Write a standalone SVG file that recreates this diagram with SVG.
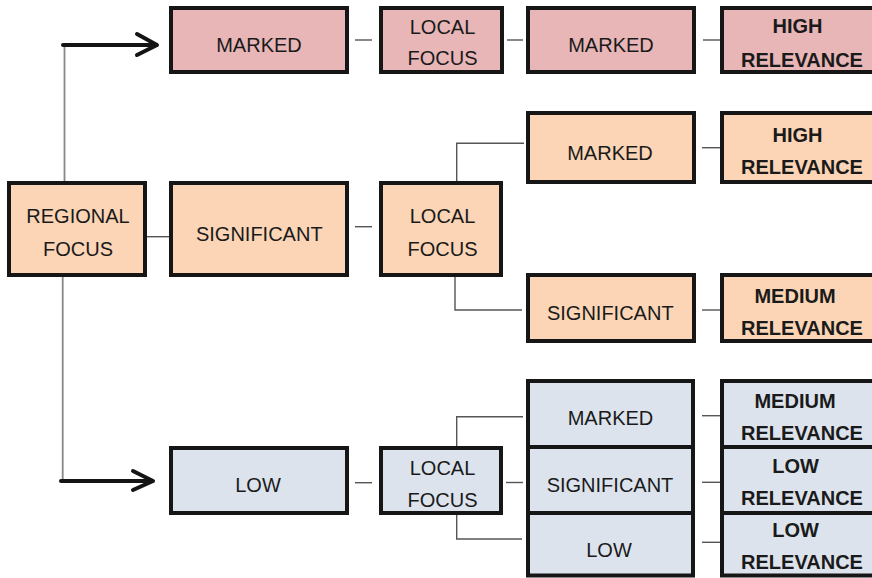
<svg xmlns="http://www.w3.org/2000/svg" width="872" height="578" viewBox="0 0 872 578">
<style>
.b{stroke:#161616;stroke-width:4}
.pk{fill:#E8B6B7}
.or{fill:#FBD5B5}
.bl{fill:#DCE3ED}
text{font-family:"Liberation Sans",Arial,sans-serif;font-size:20px;fill:#1a1a1a;text-anchor:middle}
.bd{font-weight:bold}
.c{stroke:#555;stroke-width:1.4;fill:none}
.g{stroke:#888;stroke-width:1.8;fill:none}
.a{stroke:#141414;stroke-width:4;fill:none;stroke-linecap:round;stroke-linejoin:round}
</style>
<rect width="872" height="578" fill="#fff"/>
<g id="connectors">
<polyline class="g" points="64.5,45 64.5,181"/>
<polyline class="g" points="62.7,277 62.7,481"/>
<line class="a" x1="63" y1="45" x2="156" y2="45"/>
<polyline class="a" points="137,34 157,45 137,55"/>
<line class="a" x1="61" y1="481" x2="152" y2="481"/>
<polyline class="a" points="133,471 153,481 133,490"/>
<line class="c" x1="355" y1="40" x2="372" y2="40"/>
<line class="c" x1="507" y1="40" x2="523" y2="40"/>
<line class="c" x1="703" y1="40" x2="720" y2="40"/>
<line class="c" x1="147" y1="236.7" x2="169" y2="236.7"/>
<line class="c" x1="355" y1="226.7" x2="372" y2="226.7"/>
<polyline class="c" points="456.7,181 456.7,143.3 524,143.3"/>
<polyline class="c" points="455,272 455,310 522,310"/>
<line class="c" x1="702" y1="147.7" x2="720" y2="147.7"/>
<line class="c" x1="702" y1="310" x2="720" y2="310"/>
<line class="c" x1="355" y1="482.7" x2="372" y2="482.7"/>
<polyline class="c" points="456.7,446 456.7,416.7 523,416.7"/>
<line class="c" x1="506" y1="482.5" x2="523" y2="482.5"/>
<polyline class="c" points="456.7,515 456.7,539 522,539"/>
<line class="c" x1="702" y1="415.7" x2="720" y2="415.7"/>
<line class="c" x1="702" y1="482.3" x2="720" y2="482.3"/>
<line class="c" x1="702" y1="542.3" x2="720" y2="542.3"/>
</g>
<g id="top-marked"><rect class="b pk" x="171" y="8" width="176" height="64"/><text x="259" y="51.5">MARKED</text></g>
<g id="top-local"><rect class="b pk" x="381" y="8" width="121" height="64"/><text x="442.5" y="34.3">LOCAL</text><text x="442.5" y="65">FOCUS</text></g>
<g id="top-marked2"><rect class="b pk" x="528" y="8" width="166" height="64"/><text x="611" y="51.7">MARKED</text></g>
<g id="top-high"><rect class="b pk" x="722" y="8" width="160" height="64"/><text class="bd" x="797.5" y="33.3">HIGH</text><text class="bd" x="802" y="66.7">RELEVANCE</text></g>
<g id="regional"><rect class="b or" x="9" y="183" width="136" height="92"/><text x="78" y="223.3">REGIONAL</text><text x="78" y="255.7">FOCUS</text></g>
<g id="mid-significant"><rect class="b or" x="171" y="183" width="176" height="92"/><text x="259.3" y="240.7">SIGNIFICANT</text></g>
<g id="mid-local"><rect class="b or" x="381" y="183" width="120" height="92"/><text x="442.5" y="223.3">LOCAL</text><text x="442.5" y="255.7">FOCUS</text></g>
<g id="mid-marked"><rect class="b or" x="528" y="113" width="166" height="69"/><text x="610" y="160">MARKED</text></g>
<g id="mid-high"><rect class="b or" x="722" y="113" width="160" height="69"/><text class="bd" x="797.5" y="142.3">HIGH</text><text class="bd" x="802" y="174">RELEVANCE</text></g>
<g id="mid-significant2"><rect class="b or" x="528" y="275" width="166" height="66"/><text x="610.3" y="320">SIGNIFICANT</text></g>
<g id="mid-medium"><rect class="b or" x="722" y="275" width="160" height="66"/><text class="bd" x="795" y="303.3">MEDIUM</text><text class="bd" x="802" y="335">RELEVANCE</text></g>
<g id="low"><rect class="b bl" x="171" y="448" width="176" height="65"/><text x="258" y="492.3">LOW</text></g>
<g id="low-local"><rect class="b bl" x="381" y="448" width="120" height="65"/><text x="442.5" y="475">LOCAL</text><text x="442.5" y="506.7">FOCUS</text></g>
<g id="low-marked"><rect class="b bl" x="528" y="381" width="165" height="66"/><text x="610.5" y="425">MARKED</text></g>
<g id="low-significant"><rect class="b bl" x="528" y="447" width="165" height="66"/><text x="610" y="491.7">SIGNIFICANT</text></g>
<g id="low-low"><rect class="b bl" x="528" y="513" width="165" height="62.5"/><text x="609" y="556.7">LOW</text></g>
<g id="low-medium"><rect class="b bl" x="722" y="381" width="160" height="66"/><text class="bd" x="795" y="408.3">MEDIUM</text><text class="bd" x="802" y="440">RELEVANCE</text></g>
<g id="low-lowrel1"><rect class="b bl" x="722" y="447" width="160" height="66"/><text class="bd" x="795.5" y="473.3">LOW</text><text class="bd" x="802" y="505">RELEVANCE</text></g>
<g id="low-lowrel2"><rect class="b bl" x="722" y="513" width="160" height="62.5"/><text class="bd" x="795.5" y="537.3">LOW</text><text class="bd" x="802" y="569.3">RELEVANCE</text></g>
</svg>
